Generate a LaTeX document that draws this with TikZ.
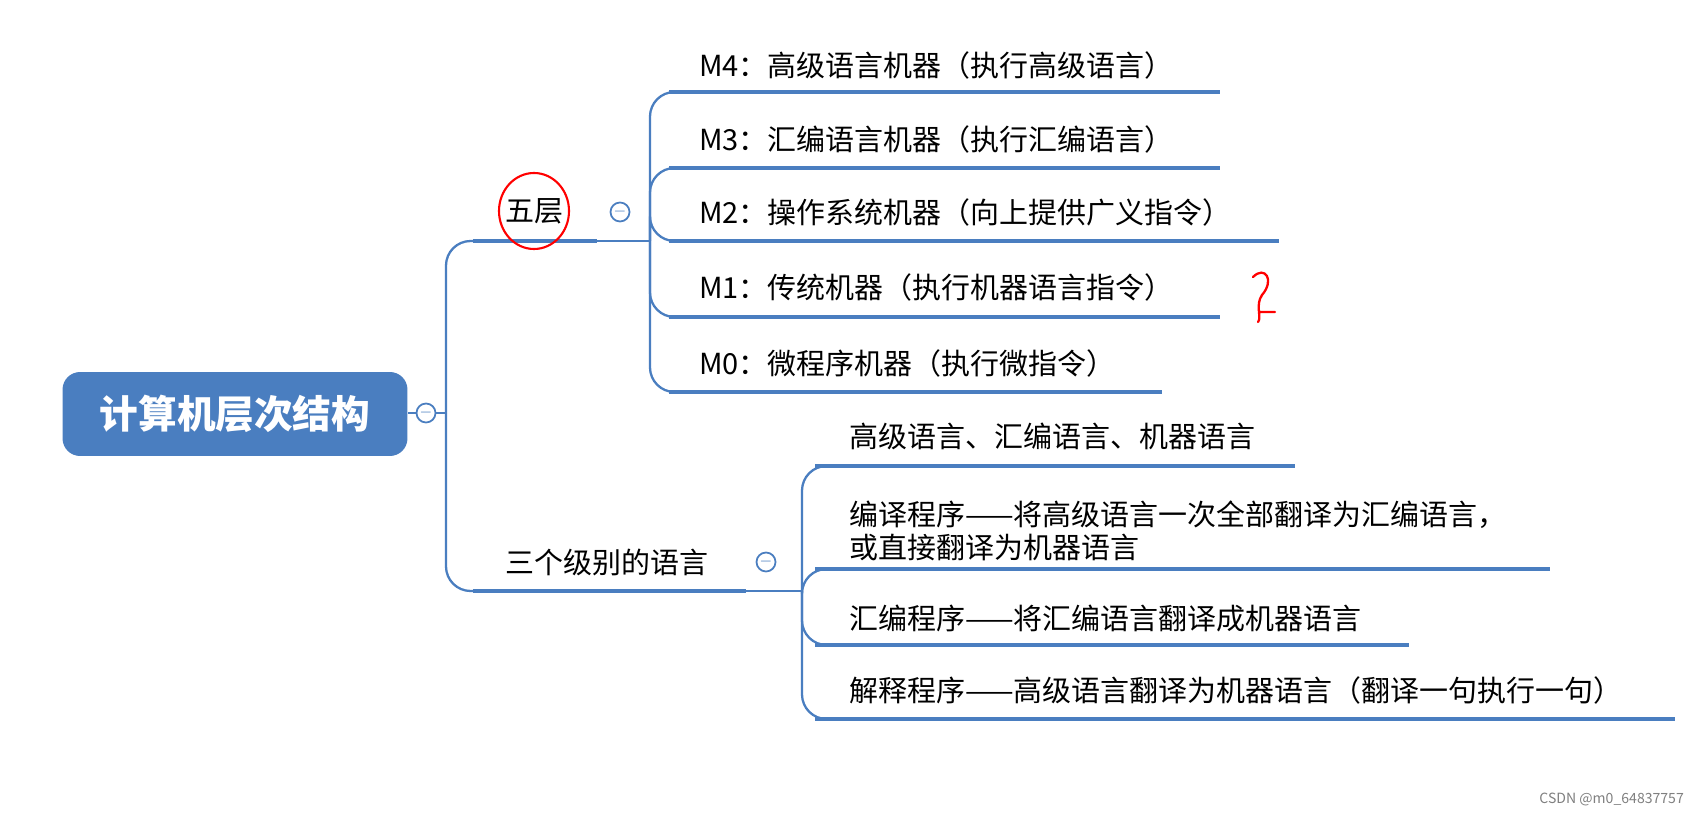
\documentclass[tikz,border=0pt]{standalone}
\usepackage{fontspec}
\setmainfont{Noto Sans CJK SC}
\begin{document}
\begin{tikzpicture}[x=0.02cm,y=-0.02cm,
  ln/.style={draw=lblue,line width=2.2pt},
  br/.style={draw=lblue,line width=1.3pt,rounded corners=14},
  lbl/.style={anchor=west,font=\fontsize{16.5}{19}\selectfont,inner sep=0pt,align=left},
  mn/.style={circle,draw=lblue,line width=1pt,fill=white,minimum size=0.38cm,inner sep=0pt,font=\bfseries\small,text=lblue}]
\definecolor{lblue}{HTML}{4A7EC0}
\useasboundingbox (0,0) rectangle (1700,817);
\fill[white] (0,0) rectangle (1700,817);
% root
\node[fill=lblue,rounded corners=10pt,minimum width=6.9cm,minimum height=1.68cm,text=white,font=\fontsize{22}{24}\selectfont\bfseries] (root) at (235,414) {计算机层次结构};
\draw[br] (408,413) -- (446,413);
\draw[br] (446,413) |- (473,241);
\draw[br] (446,413) |- (473,591);
\node[mn] (m0) at (426,413) {$-$};
% five layers
\draw[ln] (473,241) -- (597,241);
\node[lbl,anchor=center] (wu) at (534,211) {五层};
\draw[br] (597,241) -- (650,241);
\foreach \y/\e in {92/1220,168/1220,241/1279,317/1220,392/1162}{
  \draw[br] (650,241) |- (669,\y);
  \draw[ln] (669,\y) -- (\e,\y);
}
\node[mn] (m1) at (620,212) {$-$};
\node[lbl] (a4) at (699,65) {M4：高级语言机器（执行高级语言）};
\node[lbl] (a3) at (699,139) {M3：汇编语言机器（执行汇编语言）};
\node[lbl] (a2) at (699,212) {M2：操作系统机器（向上提供广义指令）};
\node[lbl] (a1) at (699,287) {M1：传统机器（执行机器语言指令）};
\node[lbl] (a0) at (699,363) {M0：微程序机器（执行微指令）};
% three levels
\draw[ln] (473,591) -- (746,591);
\node[lbl,anchor=center] (san) at (607,562) {三个级别的语言};
\draw[br] (746,591) -- (802,591);
\foreach \y/\e in {466/1295,569/1550,645/1409,719/1675}{
  \draw[br] (802,591) |- (815,\y);
  \draw[ln] (815,\y) -- (\e,\y);
}
\node[mn] (m2) at (766,562) {$-$};
\node[lbl] (b1) at (849,436) {高级语言、汇编语言、机器语言};
\node[lbl] (b2) at (849,531) {编译程序——将高级语言一次全部翻译为汇编语言，\\或直接翻译为机器语言};
\node[lbl] (b3) at (849,618) {汇编程序——将汇编语言翻译成机器语言};
\node[lbl] (b4) at (849,690) {解释程序——高级语言翻译为机器语言（翻译一句执行一句）};
% red annotations
\draw[red,line width=1.2pt] (534,211) ellipse (35 and 38);
\draw[red,line width=1.3pt,line cap=round] (1253,277) .. controls (1265,265) and (1275,280) .. (1262,295) .. controls (1255,305) and (1262,318) .. (1258,322) (1260,312) -- (1275,312);
\node[text=gray,font=\fontsize{8}{9}\selectfont,anchor=east] (wm) at (1690,799) {CSDN @m0\_64837757};
\end{tikzpicture}
\end{document}
